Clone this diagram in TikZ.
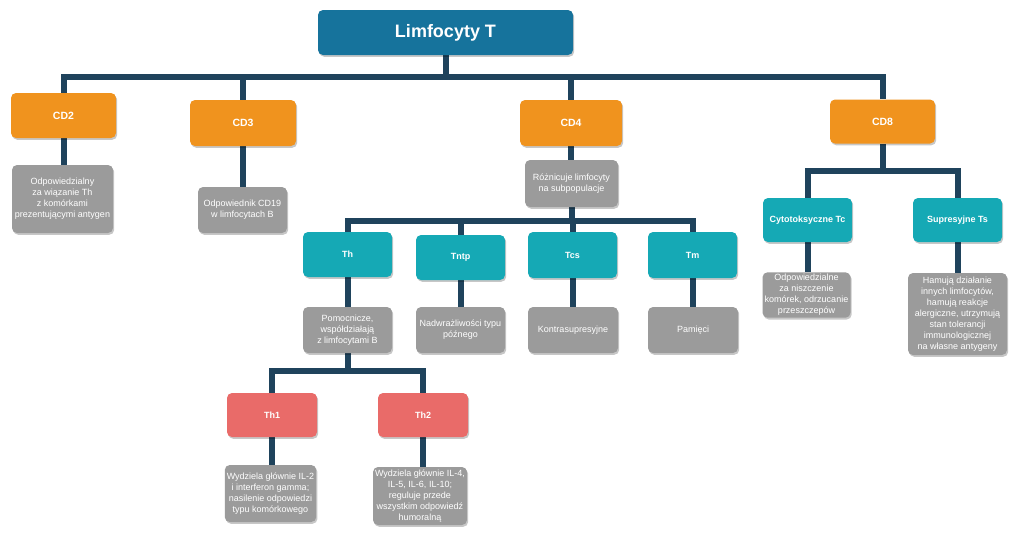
\documentclass[tikz,border=0pt]{standalone}
\usepackage{fontspec}
\setmainfont{Liberation Sans}
\usetikzlibrary{shadows,backgrounds}
\definecolor{rootblue}{RGB}{22,115,156}
\definecolor{cdorange}{RGB}{240,147,30}
\definecolor{tealbox}{RGB}{21,169,181}
\definecolor{salmon}{RGB}{233,107,105}
\definecolor{graybox}{RGB}{155,155,155}
\definecolor{connblue}{RGB}{31,67,92}
\begin{document}
\begin{tikzpicture}[x=1pt,y=-1pt,
  box/.style={rectangle, rounded corners=5pt, text=white, align=center, inner sep=2pt,
    drop shadow={shadow xshift=1.2pt, shadow yshift=-1.8pt, fill=black, opacity=0.22}},
  rootbox/.style={box, fill=rootblue, font=\fontsize{18}{20}\selectfont\bfseries},
  cdbox/.style={box, fill=cdorange, font=\fontsize{10.5}{12}\selectfont\bfseries},
  tbox/.style={box, fill=tealbox, font=\fontsize{9}{11}\selectfont\bfseries},
  rbox/.style={box, fill=salmon, font=\fontsize{9}{11}\selectfont\bfseries},
  gbox/.style={box, fill=graybox, font=\fontsize{9}{11}\selectfont},
  sz/.style 2 args={minimum width=#1pt, minimum height=#2pt},
  conn/.style={draw=connblue, line width=6pt, line join=miter}
]
\path[use as bounding box] (0,0) rectangle (1020,542);

\node[rootbox, sz={255}{45}] (root) at (445.5,32.5) {Limfocyty T};

\node[cdbox, sz={105}{45}] (cd2) at (63.5,115.5) {CD2};
\node[cdbox, sz={106}{46}] (cd3) at (243,123) {CD3};
\node[cdbox, sz={102}{46}] (cd4) at (571,123) {CD4};
\node[cdbox, sz={105}{44}] (cd8) at (882.5,121.5) {CD8};

\node[gbox, sz={101}{68}] (cd2d) at (62.5,199) {Odpowiedzialny\\za wiązanie Th\\z komórkami\\prezentującymi antygen};
\node[gbox, sz={89}{46}] (cd3d) at (242.5,210) {Odpowiednik CD19\\w limfocytach B};
\node[gbox, sz={93}{47}] (cd4d) at (571.5,183.5) {Różnicuje limfocyty\\na subpopulacje};

\node[tbox, sz={89}{45}] (th) at (347.5,254.5) {Th};
\node[tbox, sz={89}{45}] (tntp) at (460.5,257.5) {Tntp};
\node[tbox, sz={89}{46}] (tcs) at (572.5,255) {Tcs};
\node[tbox, sz={89}{46}] (tm) at (692.5,255) {Tm};

\node[gbox, sz={89}{46}] (thd) at (347.5,330) {Pomocnicze,\\współdziałają\\z limfocytami B};
\node[gbox, sz={89}{46}] (tntpd) at (460.5,330) {Nadwrażliwości typu\\późnego};
\node[gbox, sz={90}{46}] (tcsd) at (573,330) {Kontrasupresyjne};
\node[gbox, sz={90}{46}] (tmd) at (693,330) {Pamięci};

\node[rbox, sz={90}{44}] (th1) at (272,415) {Th1};
\node[rbox, sz={90}{44}] (th2) at (423,415) {Th2};

\node[gbox, sz={91}{57}] (th1d) at (270.5,493.5) {Wydziela głównie IL-2\\i interferon gamma;\\nasilenie odpowiedzi\\typu komórkowego};
\node[gbox, sz={92}{58}] (th2d) at (420,496) {Wydziela głównie IL-4,\\IL-5, IL-6, IL-10;\\reguluje przede\\wszystkim odpowiedź\\humoralną};

\node[tbox, sz={89}{44}] (tc) at (807.5,220) {Cytotoksyczne Tc};
\node[tbox, sz={89}{44}] (ts) at (957.5,220) {Supresyjne Ts};

\node[gbox, sz={88}{44}] (tcd) at (806.5,295) {Odpowiedzialne\\za niszczenie\\komórek, odrzucanie\\przeszczepów};
\node[gbox, sz={99}{82}] (tsd) at (957.5,314) {Hamują działanie\\innych limfocytów,\\hamują reakcje\\alergiczne, utrzymują\\stan tolerancji\\immunologicznej\\na własne antygeny};

\begin{scope}[on background layer]
  \fill[white] (0,0) rectangle (1020,542);
  \coordinate (b1) at (0,77);
  \coordinate (b2) at (0,221);
  \coordinate (b3) at (0,371);
  \coordinate (b4) at (0,171);
  % root level
  \draw[conn] (root.south) -- (root.south |- b1);
  \draw[conn] (cd2.north) |- (b1 -| cd8.north) -- (cd8.north);
  \draw[conn] (cd3.north) -- (cd3.north |- b1);
  \draw[conn] (cd4.north) -- (cd4.north |- b1);
  % CD2, CD3
  \draw[conn] (cd2.south) -- (cd2.south |- cd2d.north);
  \draw[conn] (cd3.south) -- (cd3.south |- cd3d.north);
  % CD4
  \draw[conn] (cd4.south) -- (cd4.south |- cd4d.north);
  \draw[conn] (cd4d.south) -- (cd4d.south |- b2);
  \draw[conn] (th.north) |- (b2 -| tm.north) -- (tm.north);
  \draw[conn] (tntp.north) -- (tntp.north |- b2);
  \draw[conn] (tcs.north) -- (tcs.north |- b2);
  \draw[conn] (th.south) -- (th.south |- thd.north);
  \draw[conn] (tntp.south) -- (tntp.south |- tntpd.north);
  \draw[conn] (tcs.south) -- (tcs.south |- tcsd.north);
  \draw[conn] (tm.south) -- (tm.south |- tmd.north);
  % Th subtree
  \draw[conn] (thd.south) -- (thd.south |- b3);
  \draw[conn] (th1.north) |- (b3 -| th2.north) -- (th2.north);
  \draw[conn] (th1.south) -- (th1.south |- th1d.north);
  \draw[conn] (th2.south) -- (th2.south |- th2d.north);
  % CD8
  \draw[conn] (cd8.south) -- (cd8.south |- b4);
  \draw[conn] (tc.north) |- (b4 -| ts.north) -- (ts.north);
  \draw[conn] (tc.south) -- (tc.south |- tcd.north);
  \draw[conn] (ts.south) -- (ts.south |- tsd.north);
\end{scope}
\end{tikzpicture}
\end{document}
